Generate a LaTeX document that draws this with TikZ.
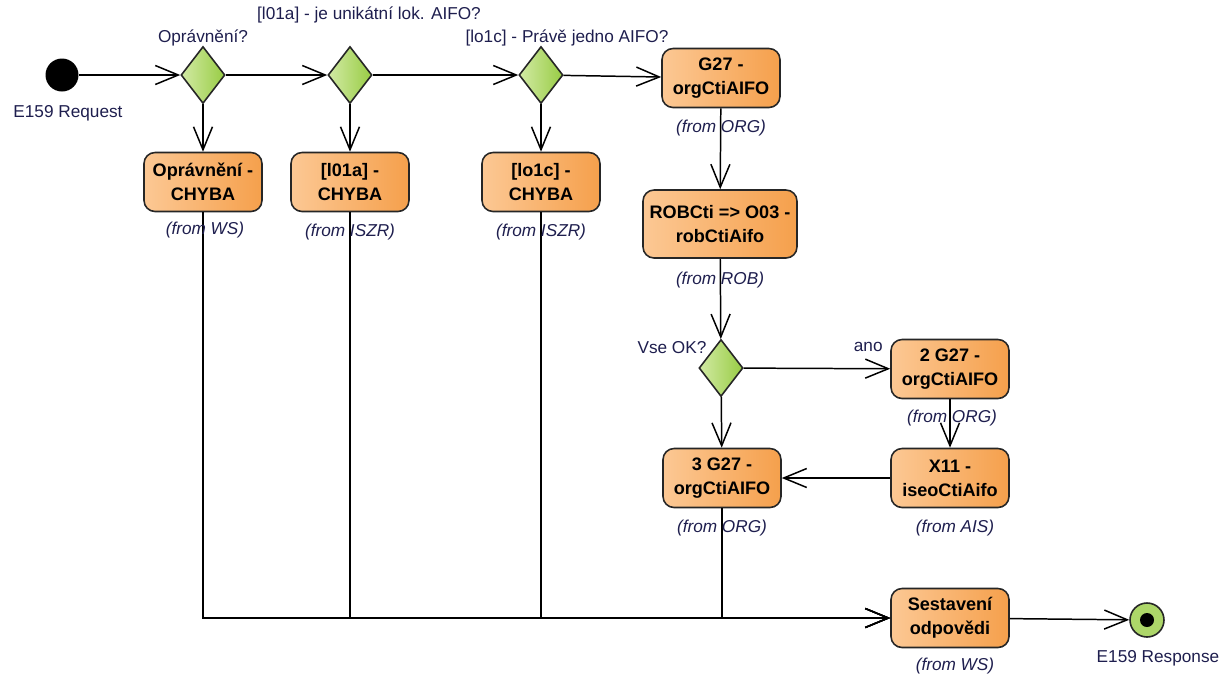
\documentclass[tikz,border=0pt]{standalone}
\usepackage{fontspec}
\setmainfont{Liberation Sans}
\usetikzlibrary{arrows.meta,shapes.geometric}
\definecolor{actlight}{HTML}{FCC894}
\definecolor{actdark}{HTML}{F5A04C}
\definecolor{declight}{HTML}{D2EAA4}
\definecolor{decdark}{HTML}{98CC44}
\definecolor{labtext}{HTML}{1E1E4E}
\tikzset{
  action/.style={draw=black!85, line width=0.9pt, rounded corners=0.22cm, left color=actlight, right color=actdark, minimum width=2.36cm, minimum height=1.18cm, align=center, inner sep=2pt, font=\bfseries\fontsize{10.3}{13.5}\selectfont},
  decision/.style={diamond, draw=black!85, line width=0.9pt, left color=declight, right color=decdark, minimum width=0.88cm, minimum height=1.14cm, inner sep=0pt},
  flow/.style={line width=0.85pt, -{Straight Barb[length=0.46cm,width=0.38cm]}},
  fromtxt/.style={font=\itshape\fontsize{9.8}{11}\selectfont, text=labtext, inner sep=1pt},
  guard/.style={font=\fontsize{9.8}{11}\selectfont, text=labtext, inner sep=1pt}
}
\begin{document}
\begin{tikzpicture}[x=0.02cm,y=-0.02cm]
\useasboundingbox (0,0) rectangle (1228,677);
\node [circle, fill=black, minimum size=0.66cm, inner sep=0pt] (req) at (62,75) {};
\node [guard] (reqlab) at (68,113) {E159 Request};
\node [decision] (opr) at (203,75) {};
\node [decision] (lok) at (350,75) {};
\node [decision] (jedno) at (541,75) {};
\node [guard] (oprlab) at (203,38) {Oprávnění?};
\node [guard] (loklab) at (369,15) {[l01a] - je unikátní lok. AIFO?};
\node [guard] (jednolab) at (567,38) {[lo1c] - Právě jedno AIFO?};
\node [action] (g27) at (721,78) {G27 -\\orgCtiAIFO};
\node [action] (oprerr) at (203,182) {Oprávnění -\\CHYBA};
\node [action] (lokerr) at (350,182) {[l01a] -\\CHYBA};
\node [action] (jednoerr) at (541,182) {[lo1c] -\\CHYBA};
\node [action, minimum width=3.08cm, minimum height=1.36cm] (rob) at (720,224) {ROBCti => O03 -\\robCtiAifo};
\node [decision] (vse) at (721,368) {};
\node [guard] (vselab) at (672,348) {Vse OK?};
\node [action] (g27b) at (950,369) {2 G27 -\\orgCtiAIFO};
\node [action] (x11) at (950,478) {X11 -\\iseoCtiAifo};
\node [action] (g27c) at (722,478) {3 G27 -\\orgCtiAIFO};
\node [action] (sest) at (950,618) {Sestavení\\odpovědi};
\node [circle, draw=black!85, line width=0.9pt, fill=decdark!80, minimum size=0.68cm, inner sep=0pt] (resp) at (1147,620) {};
\fill (resp) circle (0.14cm);
\node [guard] (resplab) at (1158,658) {E159 Response};
\draw [flow] (req) -- (opr);
\draw [flow] (opr) -- (lok);
\draw [flow] (lok) -- (jedno);
\draw [flow] (jedno) -- (g27);
\draw [flow] (opr) -- (oprerr);
\draw [flow] (lok) -- (lokerr);
\draw [flow] (jedno) -- (jednoerr);
\draw [flow] (g27) -- (rob);
\draw [flow] (rob) -- (vse);
\draw [flow] (vse) -- node [guard, pos=0.85, above=8pt] (ano) {ano} (g27b);
\draw [flow] (vse) -- (g27c);
\draw [flow] (g27b) -- (x11);
\draw [flow] (x11) -- (g27c);
\draw [flow] (oprerr) |- (sest);
\draw [flow] (lokerr) |- (sest);
\draw [flow] (jednoerr) |- (sest);
\draw [flow] (g27c) |- (sest);
\draw [flow] (sest) -- (resp);
\node [fromtxt] (g27from) at (721,128) {(from ORG)};
\node [fromtxt] (oprfrom) at (205,230) {(from WS)};
\node [fromtxt] (lokfrom) at (350,232) {(from ISZR)};
\node [fromtxt] (jednofrom) at (541,232) {(from ISZR)};
\node [fromtxt] (robfrom) at (720,280) {(from ROB)};
\node [fromtxt] (g27bfrom) at (952,418) {(from ORG)};
\node [fromtxt] (x11from) at (955,528) {(from AIS)};
\node [fromtxt] (g27cfrom) at (722,528) {(from ORG)};
\node [fromtxt] (sestfrom) at (955,666) {(from WS)};
\end{tikzpicture}
\end{document}
